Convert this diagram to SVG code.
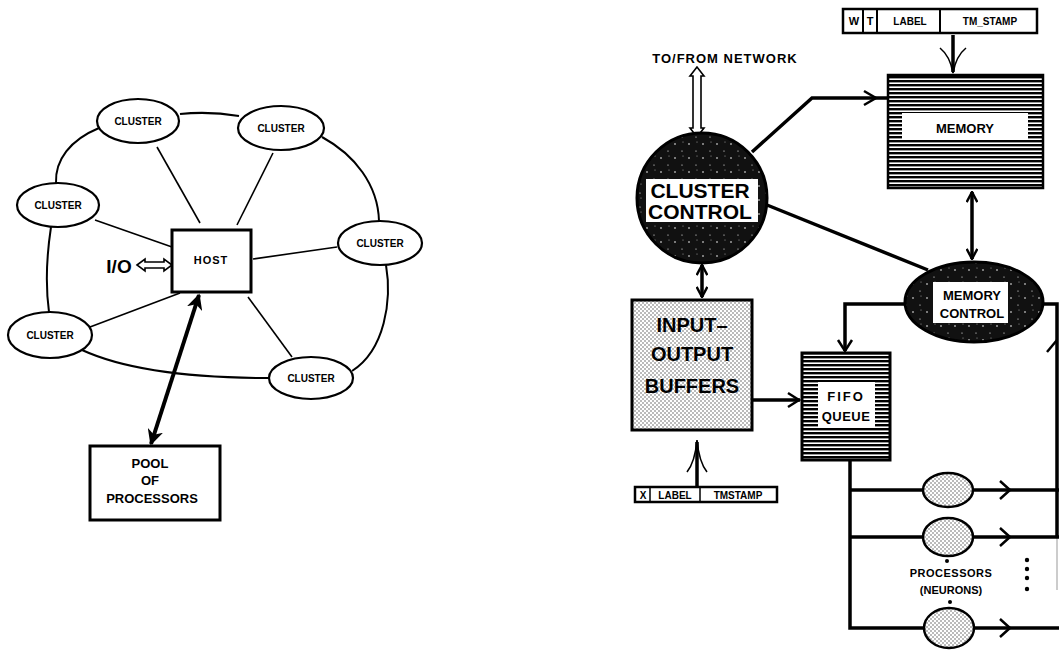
<svg xmlns="http://www.w3.org/2000/svg" width="1059" height="650" viewBox="0 0 1059 650">
<style>
.t{font-family:"Liberation Sans",Arial,sans-serif;font-weight:bold;fill:#000;text-anchor:middle}
.ln{fill:none;stroke:#000;stroke-width:1.6}
.ring{fill:none;stroke:#000;stroke-width:2}
.th{fill:none;stroke:#000;stroke-width:3.5;stroke-linejoin:miter}
.box{fill:#fff;stroke:#000;stroke-width:3}
.cl{fill:#fff;stroke:#000;stroke-width:2.2}
.chev{fill:none;stroke:#000;stroke-width:2.5}
.hol{fill:#fff;stroke:#000;stroke-width:1.6;stroke-linejoin:miter}
.band{fill:#fff;stroke:none}
</style>
<defs>
<pattern id="hatch" width="6" height="4" patternUnits="userSpaceOnUse">
<rect width="6" height="4" fill="#fff"/>
<rect y="0" width="6" height="2.4" fill="#000"/>
</pattern>
<pattern id="dots" width="4" height="4" patternUnits="userSpaceOnUse">
<rect width="4" height="4" fill="#fff"/>
<circle cx="1" cy="1" r="0.75" fill="#555"/>
<circle cx="3" cy="3" r="0.75" fill="#555"/>
</pattern>
<pattern id="dark" width="14" height="14" patternUnits="userSpaceOnUse">
<rect width="14" height="14" fill="#111"/>
<circle cx="3" cy="4" r="0.8" fill="#fff"/>
<circle cx="10" cy="11" r="0.6" fill="#fff"/>
<circle cx="11" cy="2" r="0.5" fill="#bbb"/>
</pattern>
<marker id="ah" viewBox="0 0 10 10" refX="9" refY="5" markerWidth="4" markerHeight="4" orient="auto-start-reverse">
<path d="M0,0 L10,5 L0,10 L3,5 Z" fill="#000"/>
</marker>
<marker id="av" viewBox="0 0 10 10" refX="9.5" refY="5" markerWidth="3.4" markerHeight="3.4" orient="auto-start-reverse">
<path d="M1,0.5 L9.5,5 L1,9.5" fill="none" stroke="#000" stroke-width="2"/>
</marker>
</defs>

<rect width="1059" height="650" fill="#fff"/>

<!-- LEFT DIAGRAM -->
<g id="connectors-left">
<path class="ring" d="M180,114 Q209,111 239,116"/>
<path class="ring" d="M99,128 C70,140 55,160 56,183"/>
<path class="ring" d="M51,227 C46,260 46,290 49,312"/>
<path class="ring" d="M82,350 C130,372 200,378 269,378"/>
<path class="ring" d="M322,137 C355,155 378,185 379,221"/>
<path class="ring" d="M386,265 C392,300 385,350 352,371"/>
<line class="ln" x1="157" y1="147" x2="200" y2="223"/>
<line class="ln" x1="273" y1="153" x2="237" y2="225"/>
<line class="ln" x1="95" y1="220" x2="172" y2="247"/>
<line class="ln" x1="337" y1="247" x2="253" y2="259"/>
<line class="ln" x1="90" y1="327" x2="180" y2="293"/>
<line class="ln" x1="248" y1="297" x2="292" y2="357"/>
<polygon class="hol" points="137,265 145,259 145,262 164,262 164,259 172,265 164,271 164,268 145,268 145,271"/>
<line x1="199" y1="295" x2="151" y2="444" stroke="#000" stroke-width="4" marker-start="url(#ah)" marker-end="url(#ah)"/>
</g>

<g id="cluster-tl"><ellipse class="cl" cx="138" cy="121" rx="41" ry="22"/><text class="t" x="138" y="125" font-size="10">CLUSTER</text></g>
<g id="cluster-tr"><ellipse class="cl" cx="281" cy="128" rx="43" ry="22"/><text class="t" x="281" y="132" font-size="10">CLUSTER</text></g>
<g id="cluster-l"><ellipse class="cl" cx="58" cy="205" rx="41" ry="22"/><text class="t" x="58" y="209" font-size="10">CLUSTER</text></g>
<g id="cluster-r"><ellipse class="cl" cx="380" cy="243" rx="42" ry="22"/><text class="t" x="380" y="247" font-size="10">CLUSTER</text></g>
<g id="cluster-ll"><ellipse class="cl" cx="50" cy="335" rx="42" ry="23"/><text class="t" x="50" y="339" font-size="10">CLUSTER</text></g>
<g id="cluster-b"><ellipse class="cl" cx="311" cy="378" rx="42" ry="21"/><text class="t" x="311" y="382" font-size="10">CLUSTER</text></g>
<g id="host"><rect class="box" x="172" y="230" width="79" height="62"/><text class="t" x="211" y="264" font-size="11" letter-spacing="1">HOST</text></g>
<g id="io"><text class="t" x="119" y="273" font-size="19">I/O</text></g>
<g id="pool"><rect class="box" x="90" y="446" width="130" height="74"/>
<text class="t" x="150" y="468" font-size="13">POOL</text>
<text class="t" x="150" y="485" font-size="13">OF</text>
<text class="t" x="152" y="503" font-size="13">PROCESSORS</text></g>

<!-- RIGHT DIAGRAM -->
<g id="connectors-right">
<polygon class="hol" points="697,67 690,76 693,76 693,128 690,128 697,137 704,128 701,128 701,76 704,76"/>
<polyline class="th" points="752,152 812,98 888,98"/>
<path class="chev" d="M864,91 L876,98 L864,105"/>
<line class="th" x1="767" y1="205" x2="928" y2="270"/>
<line class="th" x1="972" y1="192" x2="972" y2="259" marker-start="url(#av)" marker-end="url(#av)"/>
<line class="th" x1="702" y1="265" x2="702" y2="297" marker-start="url(#av)" marker-end="url(#av)"/>
<line class="th" x1="753" y1="400" x2="800" y2="400"/>
<path class="chev" d="M788,393 L799,400 L788,407"/>
<polyline class="th" points="905,304 845,304 845,351"/>
<path class="chev" d="M838,340 L845,351 L852,340"/>
<polyline class="th" points="1043,304 1057,304 1057,537"/>
<path class="chev" d="M1047,352 L1057,340"/>
<line x1="1057" y1="537" x2="1057" y2="590" stroke="#999" stroke-width="1"/>
<polyline class="th" points="850,460 850,628 924,628"/>
<line class="th" x1="850" y1="490" x2="924" y2="490"/>
<line class="th" x1="850" y1="537" x2="924" y2="537"/>
<line class="th" x1="972" y1="490" x2="1059" y2="490"/>
<line class="th" x1="972" y1="537" x2="1059" y2="537"/>
<line class="th" x1="972" y1="628" x2="1059" y2="628"/>
<path class="chev" d="M1000,481 L1010,490 L1000,499"/>
<path class="chev" d="M1000,528 L1010,537 L1000,546"/>
<path class="chev" d="M1000,619 L1010,628 L1000,637"/>
<path class="th" d="M953,35 L953,72" stroke-width="3"/>
<path class="ln" stroke-width="3.5" d="M940,48 Q950,56 953,73 Q956,56 966,48"/>
<path class="th" d="M697,487 L697,442" stroke-width="3"/>
<path class="ln" stroke-width="3.5" d="M687,472 Q695,462 697,440 Q699,462 707,472"/>
</g>

<g id="to-from-network"><text class="t" x="725" y="63" font-size="13" letter-spacing="1">TO/FROM NETWORK</text></g>

<g id="label-top">
<rect x="843" y="9" width="194" height="24" fill="#fff" stroke="#000" stroke-width="2.5"/>
<line x1="863" y1="9" x2="863" y2="33" stroke="#000" stroke-width="2"/>
<line x1="877" y1="9" x2="877" y2="33" stroke="#000" stroke-width="2"/>
<line x1="940" y1="9" x2="940" y2="33" stroke="#000" stroke-width="2"/>
<text class="t" x="854" y="25" font-size="11">W</text>
<text class="t" x="870" y="25" font-size="11">T</text>
<text class="t" x="910" y="25" font-size="10">LABEL</text>
<text class="t" x="990" y="25" font-size="10">TM_STAMP</text>
</g>

<g id="memory">
<rect x="888" y="75" width="155" height="113" fill="url(#hatch)" stroke="#000" stroke-width="2.5"/>
<rect class="band" x="902" y="113" width="126" height="27"/>
<text class="t" x="965" y="133" font-size="13">MEMORY</text>
</g>

<g id="cluster-control">
<circle cx="702" cy="198" r="65" fill="url(#dark)" stroke="#000" stroke-width="3"/>
<rect class="band" x="646" y="179" width="112" height="43"/>
<text class="t" x="700" y="198" font-size="21">CLUSTER</text>
<text class="t" x="700" y="219" font-size="21">CONTROL</text>
</g>

<g id="memory-control">
<ellipse cx="974" cy="302" rx="69" ry="40" fill="url(#dark)" stroke="#000" stroke-width="3"/>
<rect class="band" x="933" y="282" width="75" height="41"/>
<text class="t" x="972" y="300" font-size="13">MEMORY</text>
<text class="t" x="972" y="318" font-size="13">CONTROL</text>
</g>

<g id="io-buffers">
<rect x="632" y="300" width="120" height="130" fill="url(#dots)" stroke="#000" stroke-width="3"/>
<text class="t" x="692" y="332" font-size="20">INPUT–</text>
<text class="t" x="692" y="361" font-size="20">OUTPUT</text>
<text class="t" x="692" y="393" font-size="20">BUFFERS</text>
</g>

<g id="fifo">
<rect x="802" y="353" width="88" height="107" fill="url(#hatch)" stroke="#000" stroke-width="3"/>
<rect class="band" x="818" y="382" width="57" height="46"/>
<text class="t" x="846" y="401" font-size="13" letter-spacing="2">FIFO</text>
<text class="t" x="846" y="421" font-size="13" letter-spacing="0.5">QUEUE</text>
</g>

<g id="label-bottom">
<rect x="635" y="487" width="142" height="15" fill="#fff" stroke="#000" stroke-width="2.5"/>
<line x1="650" y1="487" x2="650" y2="502" stroke="#000" stroke-width="1.5"/>
<line x1="700" y1="487" x2="700" y2="502" stroke="#000" stroke-width="1.5"/>
<text class="t" x="643" y="499" font-size="10">X</text>
<text class="t" x="675" y="499" font-size="10">LABEL</text>
<text class="t" x="738" y="499" font-size="10">TMSTAMP</text>
</g>

<g id="proc-1"><ellipse cx="948" cy="490" rx="25" ry="17" fill="url(#dots)" stroke="#000" stroke-width="2.5"/></g>
<g id="proc-2"><ellipse cx="948" cy="537" rx="25" ry="19" fill="url(#dots)" stroke="#000" stroke-width="2.5"/></g>
<g id="proc-3"><ellipse cx="949" cy="628" rx="25" ry="20" fill="url(#dots)" stroke="#000" stroke-width="2.5"/></g>

<g id="processors-label">
<circle cx="947" cy="561" r="2" fill="#000"/>
<circle cx="950" cy="602" r="2" fill="#000"/>
<text class="t" x="951" y="577" font-size="11" letter-spacing="0.5">PROCESSORS</text>
<text class="t" x="951" y="594" font-size="11">(NEURONS)</text>
<circle cx="1027" cy="560" r="2.2" fill="#000"/>
<circle cx="1027" cy="569" r="2.2" fill="#000"/>
<circle cx="1027" cy="578" r="2.2" fill="#000"/>
<circle cx="1027" cy="589" r="2.2" fill="#000"/>
</g>
</svg>
